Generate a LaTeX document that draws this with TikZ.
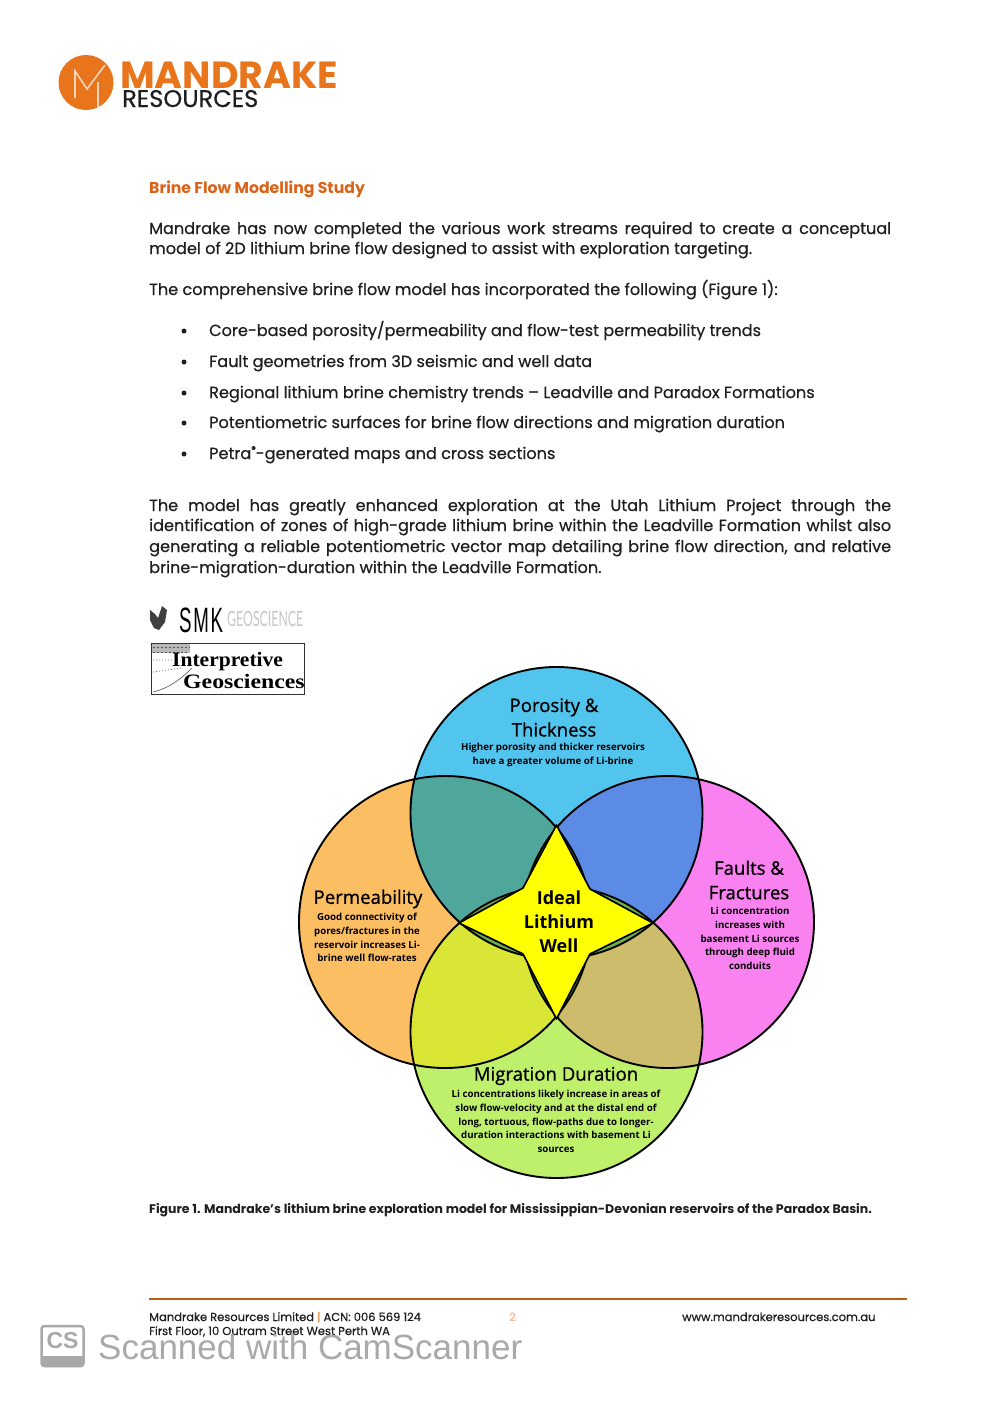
\documentclass[tikz,border=0pt]{standalone}
\usepackage{fontspec}
\setmainfont{Poppins}[FakeBold=0.5]
\newfontfamily\heavyfont{Poppins}
\newfontfamily\diagfont{Open Sans}
\newfontfamily\titlefont{Open Sans}[FakeBold=0.9]
\newfontfamily\wmfont{Liberation Sans}
\newfontfamily\thinfont{Lato}
\newfontfamily\igfont{Liberation Serif}
\definecolor{brand}{HTML}{E8741C}
\definecolor{headc}{HTML}{D9641A}
\definecolor{inkc}{HTML}{1E1E1E}
\definecolor{ctop}{HTML}{52C5EE}
\definecolor{cleft}{HTML}{FBBE63}
\definecolor{cright}{HTML}{F982F0}
\definecolor{cbottom}{HTML}{BEF06C}
\definecolor{ctl}{HTML}{4FA69B}
\definecolor{ctr}{HTML}{5C8BE6}
\definecolor{cbl}{HTML}{D9E636}
\definecolor{cbr}{HTML}{CDBC6C}
\definecolor{clens}{HTML}{6FB04E}
\definecolor{cstar}{HTML}{FFFF00}
\definecolor{wm}{HTML}{A9A9A9}
\tikzset{
  bodyline/.style={anchor=base west,inner sep=0pt,text=inkc,font=\fontsize{16.1}{18}\selectfont},
  bulletdot/.style={circle,fill=inkc,inner sep=0pt,minimum size=5pt},
  ring/.style={draw=black,line width=1.9pt},
  bigt/.style={align=center,inner sep=0pt,text=black,font=\titlefont\fontsize{18.6}{24.5}\selectfont},
  smallt/.style={align=center,inner sep=0pt,text=black,font=\diagfont\fontsize{9.7}{13.8}\bfseries\selectfont},
  foot/.style={anchor=base west,inner sep=0pt,text=inkc,font=\fontsize{11.5}{14}\selectfont},
}
\newcommand{\just}[1]{\makebox[742pt][s]{#1}}
\begin{document}
\begin{tikzpicture}[x=1pt,y=-1pt]
\path[use as bounding box,fill=white] (0,0) rectangle (1000,1403);

% logo
\node[circle,fill=brand,minimum size=55pt,inner sep=0pt] (logodisc) at (86,82.5) {};
\draw[draw=white!70!brand,line width=1.6pt,line join=miter]
  (75,98) -- (75,71) -- (87,89) -- (105,65) (98,82) -- (98,107);
\node[anchor=base west,inner sep=0pt,text=brand,font=\heavyfont\fontsize{37.8}{40}\bfseries\selectfont] (logomain) at (120,88) {MANDRAKE};
\node[anchor=base west,inner sep=0pt,text=inkc,font=\fontsize{24.1}{25}\selectfont] (logosub) at (122,107) {RESOURCES};

% heading
\node[anchor=base west,inner sep=0pt,text=headc,font=\heavyfont\fontsize{15.7}{18}\bfseries\selectfont] (head) at (149,193) {Brine Flow Modelling Study};

\node[bodyline] (p1a) at (149,234) {\just{Mandrake has now completed the various work streams required to create a conceptual}};
\node[bodyline] (p1b) at (149,254) {model of 2D lithium brine flow designed to assist with exploration targeting.};
\node[bodyline] (p2) at (149,295) {The comprehensive brine flow model has incorporated the following (Figure 1):};

\node[bulletdot] (b1) at (184,331) {};
\node[bulletdot] (b2) at (184,362) {};
\node[bulletdot] (b3) at (184,393) {};
\node[bulletdot] (b4) at (184,423) {};
\node[bulletdot] (b5) at (184,454) {};
\node[bodyline] (l1) at (209,336) {Core-based porosity/permeability and flow-test permeability trends};
\node[bodyline] (l2) at (209,367) {Fault geometries from 3D seismic and well data};
\node[bodyline] (l3) at (209,398) {Regional lithium brine chemistry trends – Leadville and Paradox Formations};
\node[bodyline] (l4) at (209,428) {Potentiometric surfaces for brine flow directions and migration duration};
\node[bodyline] (l5) at (209,459) {Petra\raisebox{0.4em}{\fontsize{9}{9}\selectfont ®}-generated maps and cross sections};

\node[bodyline] (p3a) at (149,511) {\just{The model has greatly enhanced exploration at the Utah Lithium Project through the}};
\node[bodyline] (p3b) at (149,531) {\just{identification of zones of high-grade lithium brine within the Leadville Formation whilst also}};
\node[bodyline] (p3c) at (149,552) {\just{generating a reliable potentiometric vector map detailing brine flow direction, and relative}};
\node[bodyline] (p3d) at (149,573) {brine-migration-duration within the Leadville Formation.};

% SMK logo
\fill[black!75] (150,610) -- (155,614) -- (158,618) -- (162,606) -- (167,610) -- (165,622) -- (159,630) -- (154,628) -- (150,620) -- cycle;
\node[anchor=west,inner sep=0pt,text=black,font=\wmfont\fontsize{22}{24}\selectfont] (smk) at (179,620) {\scalebox{0.85}[1.6]{S\hspace{2pt}M\hspace{2pt}K}};
\node[anchor=west,inner sep=0pt,text=black!22,font=\thinfont\fontsize{14.5}{16}\selectfont] (smkgeo) at (227,619) {\scalebox{0.85}[1.45]{GEOSCIENCE}};

% Interpretive Geosciences logo
\node[draw=black!80,line width=1pt,minimum width=153pt,minimum height=51pt,inner sep=0pt] (igbox) at (228.3,668.5) {};
\fill[black!28] (152,644) rectangle (190,653);
\draw[black!65,line width=0.8pt,dash pattern=on 2pt off 2pt] (153,647) -- (190,647) (153,652) -- (188,652);
\draw[black!55,line width=0.7pt,dash pattern=on 1pt off 2pt] (153,660) -- (172,660) (153,672) -- (182,668);
\draw[black!60,line width=0.7pt] (153,692) .. controls (170,688) and (182,678) .. (192,668);
\node[anchor=base west,inner sep=0pt,text=black,font=\igfont\fontsize{20.5}{22}\bfseries\selectfont] (ig1) at (172,666.5) {\scalebox{1.05}[1]{Interpretive}};
\node[anchor=base west,inner sep=0pt,text=black,font=\igfont\fontsize{20.5}{22}\bfseries\selectfont] (ig2) at (183,688.5) {\scalebox{1.16}[1]{Geosciences}};

% Venn
\def\rr{146}
\fill[cleft] (445,922) circle (\rr);
\fill[cright] (668,922) circle (\rr);
\fill[ctop] (556.5,813) circle (\rr);
\fill[cbottom] (556.5,1032) circle (\rr);
\begin{scope}\clip (556.5,813) circle (\rr); \fill[ctl] (445,922) circle (\rr); \end{scope}
\begin{scope}\clip (556.5,813) circle (\rr); \fill[ctr] (668,922) circle (\rr); \end{scope}
\begin{scope}\clip (556.5,1032) circle (\rr); \fill[cbl] (445,922) circle (\rr); \end{scope}
\begin{scope}\clip (556.5,1032) circle (\rr); \fill[cbr] (668,922) circle (\rr); \end{scope}
\begin{scope}\clip (556.5,1032) circle (\rr); \fill[clens] (556.5,813) circle (\rr); \end{scope}
\begin{scope}\clip (445,922) circle (\rr); \fill[clens] (668,922) circle (\rr); \end{scope}
\draw[ring] (445,922) circle (\rr);
\draw[ring] (668,922) circle (\rr);
\draw[ring] (556.5,813) circle (\rr);
\draw[ring] (556.5,1032) circle (\rr);
\draw[fill=cstar,draw=black,line width=1.7pt,line join=round]
  (556.5,825) -- (590,889) -- (653,923) -- (590,954) -- (556.5,1019) -- (523,954) -- (459,923) -- (523,888) -- cycle;

\node[bigt] (t1) at (554,717.5) {Porosity \&\\Thickness};
\node[smallt] (s1) at (553,755) {Higher porosity and thicker reservoirs\\have a greater volume of Li-brine};
\node[bigt] (t2) at (368,899) {Permeability};
\node[smallt] (s2) at (367,937.5) {Good connectivity of\\pores/fractures in the\\reservoir increases Li-\\brine well flow-rates};
\node[bigt] (t3) at (749,880) {Faults \&\\Fractures};
\node[smallt] (s3) at (750,938.5) {Li concentration\\increases with\\basement Li sources\\through deep fluid\\conduits};
\node[bigt] (t4) at (556,1076) {Migration Duration};
\node[smallt] (s4) at (556,1121.5) {Li concentrations likely increase in areas of\\slow flow-velocity and at the distal end of\\long, tortuous, flow-paths due to longer-\\duration interactions with basement Li\\sources};
\node[align=center,inner sep=0pt,text=black,font=\diagfont\fontsize{18}{24}\bfseries\selectfont] (t5) at (559,922) {Ideal\\Lithium\\Well};

% caption
\node[anchor=base west,inner sep=0pt,text=inkc,font=\heavyfont\fontsize{12.5}{14}\bfseries\selectfont] (cap) at (149,1213) {Figure 1. Mandrake’s lithium brine exploration model for Mississippian-Devonian reservoirs of the Paradox Basin.};

% footer
\coordinate (ruleL) at (149,1299);
\coordinate (ruleR) at (907,1299);
\draw[draw=brand!80!black,line width=1.2pt] (ruleL) -- (ruleR);
\node[foot] (f1) at (149,1321) {Mandrake Resources Limited {\color{brand}|} ACN: 006 569 124};
\node[foot] (f2) at (149,1335) {First Floor, 10 Outram Street West Perth WA};
\node[foot,text=brand!50] (f3) at (509,1321) {2};
\node[foot] (f4) at (682,1321) {www.mandrakeresources.com.au};

% watermark
\node[rounded corners=3pt,draw=wm,line width=2.5pt,fill=white,minimum width=42pt,minimum height=40pt,inner sep=0pt] (csbox) at (62.5,1346) {};
\fill[wm,rounded corners=2pt] (41.5,1356) rectangle (83.5,1367);
\node[inner sep=0pt,text=wm,font=\wmfont\fontsize{23}{24}\bfseries\selectfont] (cs) at (62.5,1340.5) {CS};
\node[anchor=base west,inner sep=0pt,text=wm,font=\wmfont\fontsize{35}{40}\selectfont] (wmtext) at (98,1359) {Scanned with CamScanner};
\end{tikzpicture}
\end{document}
